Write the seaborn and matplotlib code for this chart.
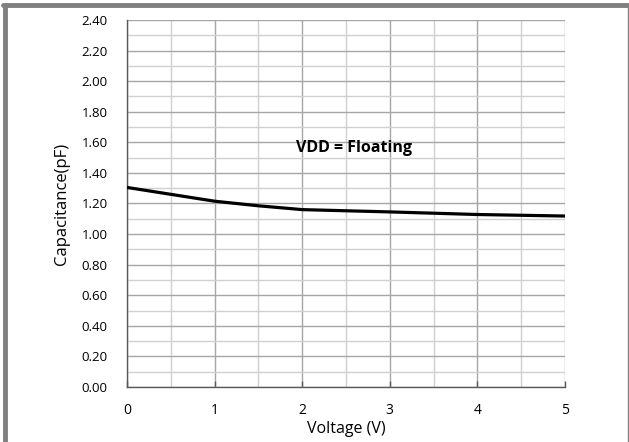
import matplotlib
matplotlib.use("Agg")
import matplotlib.pyplot as plt
from matplotlib.lines import Line2D
from matplotlib.ticker import MultipleLocator
import seaborn as sns
import pandas as pd

voltage = [0, 0.5, 1, 1.5, 2, 3, 4, 5]
capacitance = [1.305, 1.26, 1.215, 1.185, 1.16, 1.145, 1.128, 1.118]
x_ticks = [0, 1, 2, 3, 4, 5]
y_ticks = [0.0, 0.2, 0.4, 0.6, 0.8, 1.0, 1.2, 1.4, 1.6, 1.8, 2.0, 2.2, 2.4]
annotation = "VDD = Floating"

sns.set_theme(style="white")
plt.rcParams["font.family"] = ["Open Sans", "DejaVu Sans"]

df = pd.DataFrame({"Voltage": voltage, "Capacitance": capacitance})

fig = plt.figure(figsize=(6.29, 4.42), dpi=100)
ax = fig.add_axes([127 / 629, 1 - 387 / 442, 438 / 629, 367 / 442])

sns.lineplot(data=df, x="Voltage", y="Capacitance", color="black",
             linewidth=2.3, ax=ax, zorder=5)

ax.set_xlim(0, 5)
ax.set_ylim(0, 2.4)
ax.set_xticks(x_ticks)
ax.set_yticks(y_ticks)
ax.set_xticklabels([str(t) for t in x_ticks], fontsize=10)
ax.set_yticklabels([f"{t:.2f}" for t in y_ticks], fontsize=9.5)
ax.xaxis.set_minor_locator(MultipleLocator(0.5))
ax.yaxis.set_minor_locator(MultipleLocator(0.1))
ax.grid(which="major", color="#a6a6a6", linewidth=1.0)
ax.grid(which="minor", color="#d0d0d0", linewidth=1.0)
ax.set_axisbelow(True)

for side in ["top", "right"]:
    ax.spines[side].set_visible(False)
for side in ["left", "bottom"]:
    ax.spines[side].set_color("#595959")
    ax.spines[side].set_linewidth(1.0)

ax.tick_params(axis="x", which="major", direction="in", length=4, width=1,
               color="#595959", bottom=True, pad=11.5, labelcolor="black")
ax.tick_params(axis="y", which="major", left=False, length=0, pad=14, labelcolor="black")
ax.tick_params(which="minor", length=0)

ax.set_xlabel("Voltage (V)", fontsize=11.5, labelpad=2, color="black")
ax.set_ylabel("Capacitance(pF)", fontsize=12, labelpad=8, color="black")

ax.text(2.59, 1.56, annotation, fontsize=11.5, fontweight="bold",
        ha="center", va="center", color="black")

# figure frame
fig.add_artist(Line2D([5 / 629, 5 / 629], [0, 1 - 5 / 442], transform=fig.transFigure,
                      color="#808080", linewidth=3.5))
fig.add_artist(Line2D([3 / 629, 628 / 629], [1 - 5 / 442, 1 - 5 / 442], transform=fig.transFigure,
                      color="#808080", linewidth=3.5))
fig.add_artist(Line2D([627.5 / 629, 627.5 / 629], [0, 1 - 5 / 442], transform=fig.transFigure,
                      color="#808080", linewidth=1.0))

fig.savefig("out.png", dpi=100)
